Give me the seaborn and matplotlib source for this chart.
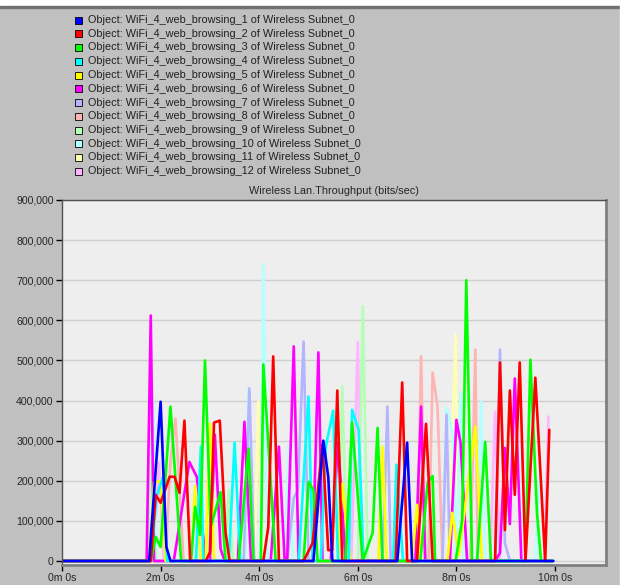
import numpy as np
import pandas as pd
import matplotlib.pyplot as plt
import seaborn as sns
from matplotlib.patches import Rectangle

series_names = [f"Object: WiFi_4_web_browsing_{i} of Wireless Subnet_0" for i in range(1, 13)]
series_colors = ["#0000FF", "#FF0000", "#00FF00", "#00FFFF", "#FFFF00", "#FF00FF",
                 "#B4B4FF", "#FFB4B4", "#B4FFB4", "#B4FFFF", "#FFFFB4", "#FFB4FF"]

# time in seconds, throughput in kbits/sec
t1 = [0, 106, 120, 127, 132, 306, 318, 324, 329, 408, 420, 426, 598]
v1 = [0, 0, 397, 35, 0, 0, 300, 210, 0, 0, 295, 0, 0]

t2 = [0, 108, 114, 120, 131, 137, 143, 149, 156, 175, 180, 185, 192, 199, 204, 245, 251, 257, 264,
      294, 305, 317, 324, 329, 335, 341, 406, 414, 420, 432, 443, 451, 527, 533, 539, 545, 551, 557,
      564, 576, 588, 593]
v2 = [0, 0, 165, 145, 210, 210, 170, 350, 0, 0, 22, 345, 350, 72, 0, 0, 85, 510, 0,
      0, 45, 290, 27, 27, 425, 0, 0, 445, 0, 0, 342, 0, 0, 495, 77, 425, 165, 495,
      0, 457, 0, 327]

t3 = [0, 108, 114, 120, 132, 145, 157, 162, 168, 174, 181, 193, 199, 215, 227, 233, 242, 245, 260,
      294, 300, 306, 311, 345, 353, 366, 378, 384, 390, 436, 445, 451, 454, 479, 487, 492, 499,
      505, 515, 522, 564, 570, 578, 583, 597]
v3 = [0, 0, 60, 35, 385, 0, 0, 135, 65, 500, 85, 172, 0, 0, 280, 0, 0, 490, 0,
      0, 197, 177, 0, 0, 345, 0, 70, 332, 0, 0, 195, 212, 0, 0, 102, 700, 0,
      0, 297, 0, 0, 502, 120, 0, 0]

t4 = [0, 108, 115, 123, 128, 163, 169, 172, 203, 210, 217, 288, 300, 305, 315, 321, 330, 336,
      349, 353, 361, 367, 403, 407, 415, 597]
v4 = [0, 0, 160, 210, 0, 0, 285, 0, 0, 295, 0, 0, 410, 0, 0, 285, 375, 0,
      0, 377, 327, 0, 0, 240, 0, 0]

t5 = [0, 106, 112, 120, 126, 157, 162, 169, 175, 180, 185, 336, 341, 351, 385, 390, 395,
      426, 432, 437, 469, 475, 483, 503, 511, 597]
v5 = [0, 0, 195, 200, 0, 0, 187, 0, 0, 342, 0, 0, 192, 0, 0, 285, 0,
      0, 140, 0, 0, 120, 15, 335, 0, 0]

t6 = [0, 103, 108, 112, 136, 155, 164, 175, 180, 186, 193, 198, 214, 222, 230, 254, 264, 271,
      274, 282, 288, 305, 312, 317, 327, 336, 345, 430, 437, 442, 472, 480, 485, 493,
      527, 533, 539, 545, 551, 559, 597]
v6 = [0, 0, 612, 0, 0, 247, 210, 0, 0, 315, 30, 0, 0, 347, 0, 0, 285, 0,
      0, 535, 0, 0, 520, 0, 0, 297, 0, 0, 385, 0, 0, 352, 295, 0,
      0, 20, 282, 92, 455, 0, 0]

t7 = [0, 221, 228, 234, 274, 282, 287, 294, 300, 390, 396, 400, 463, 468, 472, 527, 533, 539, 545, 597]
v7 = [0, 0, 430, 0, 0, 157, 177, 547, 0, 0, 385, 0, 0, 365, 0, 0, 527, 45, 0, 0]

t8 = [0, 126, 132, 138, 148, 432, 437, 442, 446, 451, 457, 463, 497, 503, 506, 597]
v8 = [0, 0, 250, 355, 0, 0, 510, 0, 0, 470, 385, 0, 0, 527, 0, 0]

t9 = [0, 103, 108, 114, 198, 203, 208, 336, 341, 347, 360, 366, 372, 432, 438, 445, 597]
v9 = [0, 0, 247, 0, 0, 177, 0, 0, 435, 0, 0, 635, 0, 0, 232, 0, 0]

t10 = [0, 106, 111, 115, 223, 227, 232, 242, 245, 250, 271, 276, 281, 463, 468, 475, 480, 485, 489,
       505, 510, 515, 576, 582, 588, 597]
v10 = [0, 0, 400, 0, 0, 432, 0, 0, 740, 0, 0, 285, 0, 0, 382, 320, 0, 420, 0,
       0, 397, 0, 0, 235, 0, 0]

t11 = [0, 234, 239, 244, 470, 479, 482, 597]
v11 = [0, 0, 397, 0, 0, 565, 0, 0]

t12 = [0, 111, 118, 124, 352, 360, 364, 521, 527, 533, 587, 592]
v12 = [0, 0, 245, 0, 0, 545, 0, 0, 372, 0, 0, 360]

times = [t1, t2, t3, t4, t5, t6, t7, t8, t9, t10, t11, t12]
values = [v1, v2, v3, v4, v5, v6, v7, v8, v9, v10, v11, v12]

frames = []
for name, t, v in zip(series_names, times, values):
    frames.append(pd.DataFrame({"time": t, "bps": np.array(v) * 1000, "series": name}))
df = pd.concat(frames, ignore_index=True)

sns.set_style("white")
plt.rcParams["font.family"] = ["Liberation Sans", "DejaVu Sans"]

fig = plt.figure(figsize=(6.24, 5.85), dpi=100, facecolor="#C0C0C0")
ax = fig.add_axes([62 / 624, 1 - 565 / 585, 544 / 624, 365 / 585])
ax.set_facecolor("#EEEEEE")

# draw series 12 first so series 1 ends up on top
sns.lineplot(data=df, x="time", y="bps", hue="series", hue_order=series_names[::-1],
             palette=dict(zip(series_names, series_colors)), estimator=None, sort=False,
             legend=False, linewidth=1.9, ax=ax)

ax.set_xlim(0, 662)
ax.set_ylim(-10000, 900000)
xt = list(range(0, 601, 120))
ax.set_xticks(xt)
ax.set_xticklabels([f"{s // 60}m 0s" for s in xt])
yt = list(range(0, 900001, 100000))
ax.set_yticks(yt)
ax.set_yticklabels([f"{y:,}" for y in yt])
ax.tick_params(direction="out", length=4, width=1, color="black", labelsize=7.6, pad=2,
               left=True, bottom=True)
ax.grid(axis="y", color="#CFCFCF", linewidth=1)
ax.set_axisbelow(True)
ax.set_xlabel("")
ax.set_ylabel("")
for sp in ax.spines.values():
    sp.set_color("#505050")
    sp.set_linewidth(1)
ax.spines["right"].set_color("#808080")
ax.spines["right"].set_linewidth(2)
ax.spines["bottom"].set_color("#808080")
ax.spines["bottom"].set_linewidth(2)
ax.set_title("Wireless Lan.Throughput (bits/sec)", fontsize=7.8, pad=4)

# window frame bits
fig.patches.append(Rectangle((0, 1 - 6 / 585), 1, 6 / 585, transform=fig.transFigure,
                             color="white", zorder=0))
fig.patches.append(Rectangle((0, 1 - 8 / 585), 1, 2 / 585, transform=fig.transFigure,
                             color="#707070", zorder=0))
fig.patches.append(Rectangle((620 / 624, 0), 4 / 624, 1, transform=fig.transFigure,
                             color="white", zorder=0))

# legend
for i, (name, color) in enumerate(zip(series_names, series_colors)):
    yc = 20 + i * 13.75
    fig.patches.append(Rectangle((75 / 624, 1 - (yc + 3.5) / 585), 7 / 624, 7 / 585,
                                 transform=fig.transFigure, facecolor=color,
                                 edgecolor="black", linewidth=0.6))
    fig.text(88 / 624, 1 - yc / 585, name, fontsize=7.8, va="center", ha="left", color="#202020")

fig.savefig("out.png", dpi=100, facecolor=fig.get_facecolor())
